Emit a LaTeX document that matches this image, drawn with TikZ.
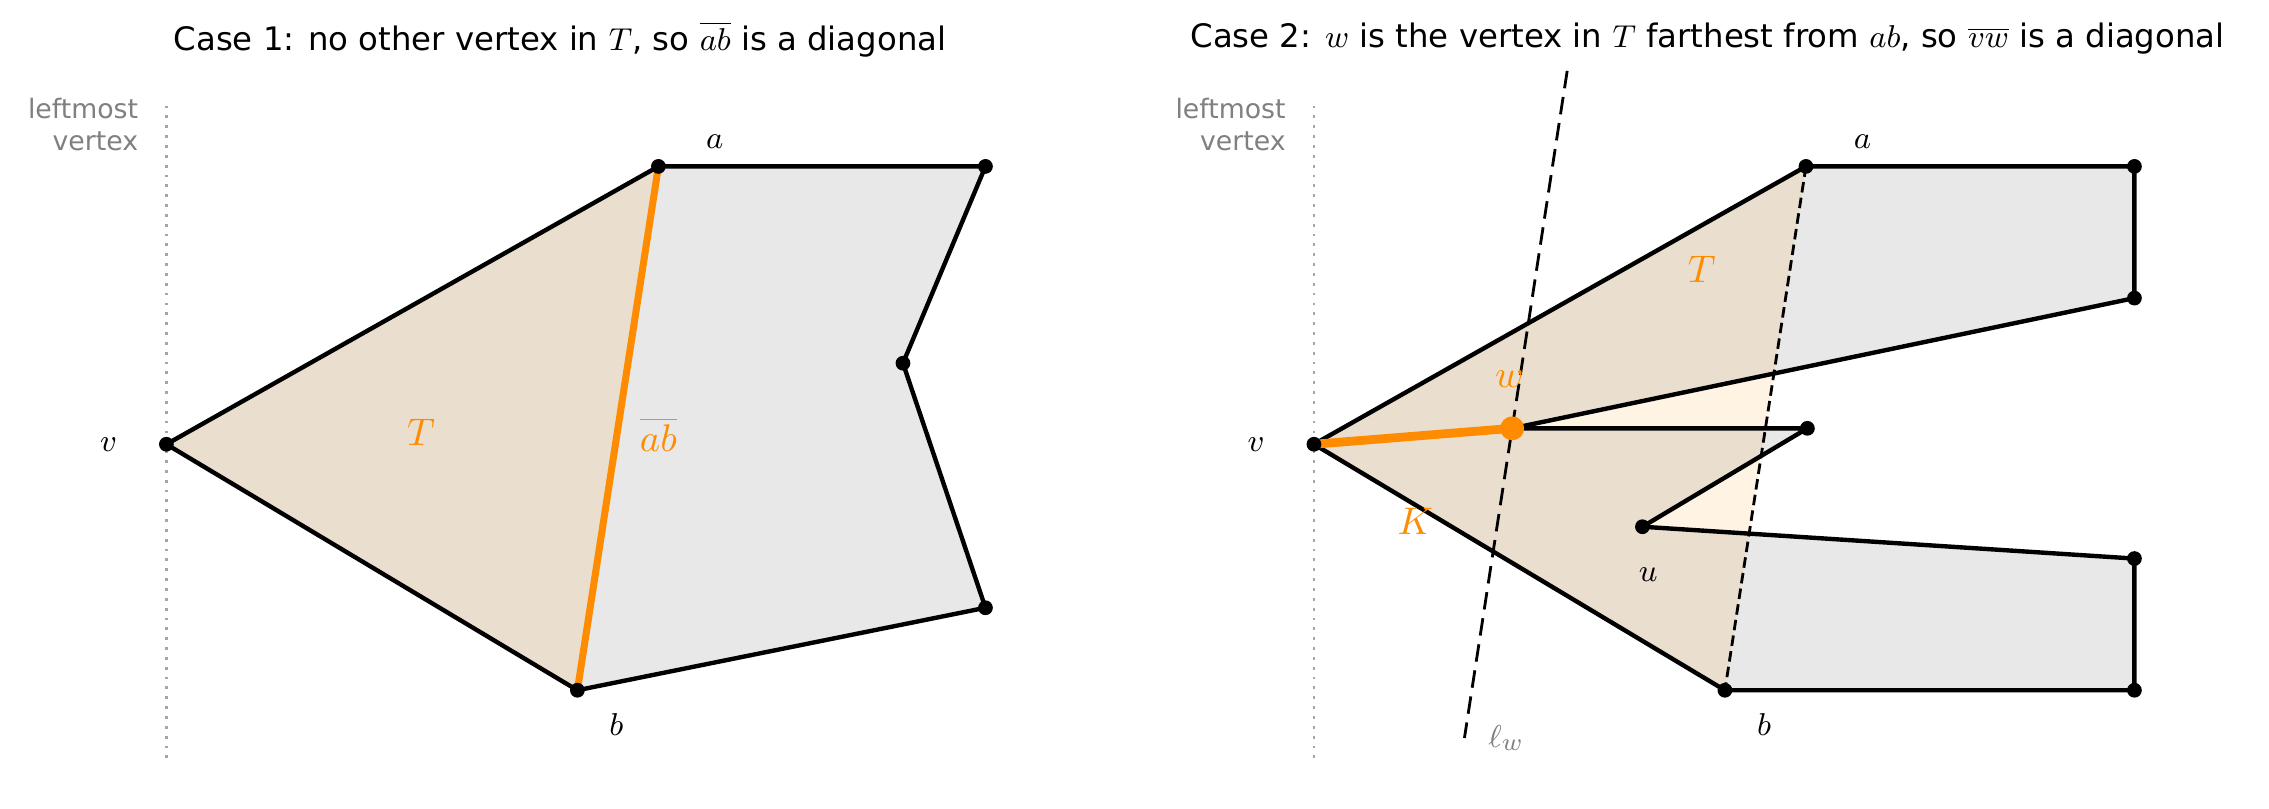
\documentclass[tikz,border=0pt]{standalone}
\usepackage{fontspec}
\setmainfont{DejaVu Sans}
\begin{document}
\begin{tikzpicture}[x=0.01447cm,y=-0.01447cm,
  edge/.style={line width=1.25pt,line join=round},
  dot/.style={circle,fill=black,inner sep=0pt,minimum size=4.2pt},
  lab/.style={font=\fontsize{9.5}{11}\selectfont},
  olab/.style={font=\fontsize{10.5}{12}\selectfont,text=orange!90!black},
  ttl/.style={font=\fontsize{9.2}{11}\selectfont},
  gray/.style={font=\fontsize{7.6}{9}\selectfont,text=gray,align=right,anchor=east},
  lm/.style={gray!70,dotted,line width=0.8pt}]
\definecolor{tan}{HTML}{EADFCF}
\definecolor{cream}{HTML}{FFF3E4}
\definecolor{poly}{HTML}{E8E8E8}
\definecolor{org}{HTML}{FF8C00}
\useasboundingbox (0,0) rectangle (1568,559);
% ---------- Case 1
\coordinate (v1) at (115,307);
\coordinate (a1) at (455,115);
\coordinate (c1) at (681,115);
\coordinate (n1) at (624,251);
\coordinate (d1) at (681,420);
\coordinate (b1) at (399,477);
\fill[poly] (a1)--(c1)--(n1)--(d1)--(b1)--cycle;
\fill[tan] (v1)--(a1)--(b1)--cycle;
\coordinate (l1t) at (115,73); \coordinate (l1b) at (115,527);
\draw[lm] (l1t)--(l1b);
\draw[edge] (v1)--(a1)--(c1)--(n1)--(d1)--(b1)--cycle;
\draw[line width=2pt,org] (a1)--(b1);
\foreach \p in {v1,a1,c1,n1,d1,b1} \node[dot] at (\p) {};
\node[ttl] (t1) at (387,27) {Case 1: no other vertex in $T$, so $\overline{ab}$ is a diagonal};
\node[gray] (g1) at (104,86) {leftmost\\vertex};
\node[lab] (lv1) at (75,307) {$v$};
\node[lab] (la1) at (494,98) {$a$};
\node[lab] (lb1) at (426,501) {$b$};
\node[olab,text=org] (lT1) at (291,299) {$T$};
\node[olab,text=org] (lab1) at (455,300) {$\overline{ab}$};
% ---------- Case 2
\coordinate (v) at (908,307);
\coordinate (a) at (1248,115);
\coordinate (p1) at (1475,115);
\coordinate (p2) at (1475,206);
\coordinate (w) at (1045,296);
\coordinate (p3) at (1249,296);
\coordinate (u) at (1135,364);
\coordinate (p4) at (1475,386);
\coordinate (p5) at (1475,477);
\coordinate (b) at (1192,477);
\fill[cream] (v)--(a)--(b)--cycle;
\fill[poly] (v)--(a)--(p1)--(p2)--(w)--(p3)--(u)--(p4)--(p5)--(b)--cycle;
\begin{scope}
\clip (v)--(a)--(b)--cycle;
\fill[tan] (v)--(a)--(p1)--(p2)--(w)--(p3)--(u)--(p4)--(p5)--(b)--cycle;
\end{scope}
\coordinate (l2t) at (908,73); \coordinate (l2b) at (908,527);
\draw[lm] (l2t)--(l2b);
\coordinate (lwt) at (1083,49); \coordinate (lwb) at (1012,510);
\draw[gray,dashed,line width=0.8pt,dash pattern=on 5pt off 2.5pt] (lwt)--(lwb);
\draw[dashed,line width=0.8pt,dash pattern=on 3pt off 1.5pt] (a)--(b);
\draw[edge] (v)--(a)--(p1)--(p2)--(w)--(p3)--(u)--(p4)--(p5)--(b)--cycle;
\draw[line width=2.5pt,org] (v)--(w);
\foreach \p in {v,a,p1,p2,p3,u,p4,p5,b} \node[dot] at (\p) {};
\node[circle,fill=org,inner sep=0pt,minimum size=6.8pt] (wd) at (w) {};
\node[ttl] (t2) at (1180,27) {Case 2: $w$ is the vertex in $T$ farthest from $ab$, so $\overline{vw}$ is a diagonal};
\node[gray] (g2) at (897,86) {leftmost\\vertex};
\node[lab] (lv) at (868,307) {$v$};
\node[lab] (la) at (1287,98) {$a$};
\node[lab] (lb) at (1219,501) {$b$};
\node[lab] (lu) at (1139,397) {$u$};
\node[olab,text=org] (lT) at (1176,186) {$T$};
\node[olab,text=org] (lw) at (1043,262) {$w$};
\node[olab,text=org] (lK) at (978,360) {$K$};
\node[lab,text=gray] (llw) at (1041,510) {$\ell_w$};
\end{tikzpicture}
\end{document}
